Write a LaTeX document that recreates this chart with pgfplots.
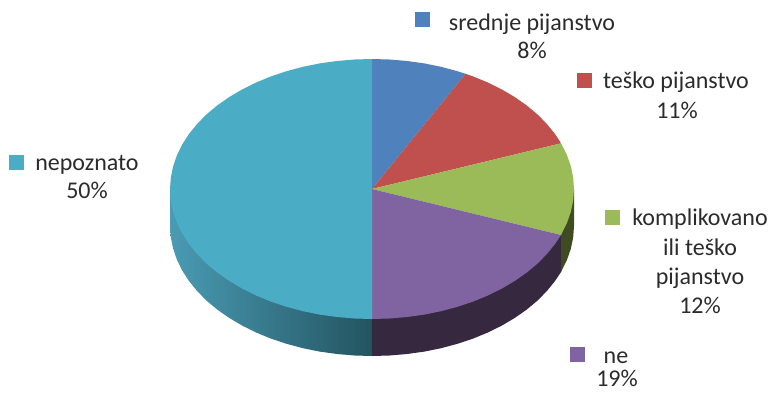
\documentclass[border=0pt]{standalone}
\usepackage{pgfplots}
\pgfplotsset{compat=1.18}
\usepackage{fontspec}
\setmainfont{Carlito}
\definecolor{cblue}{HTML}{4F81BD}
\definecolor{cred}{HTML}{C0504D}
\definecolor{cgreen}{HTML}{9BBB59}
\definecolor{cpurple}{HTML}{8064A2}
\definecolor{cteal}{HTML}{4BACC6}
\definecolor{sgreen}{HTML}{3F4C21}
\definecolor{spurple}{HTML}{35283F}
\definecolor{stealL}{HTML}{4A9BB4}
\definecolor{stealR}{HTML}{235460}
\definecolor{txt}{HTML}{2B2B2B}
\tikzset{lab/.style={font=\fontsize{24}{28}\selectfont, text=txt, anchor=base, inner sep=0pt}}
\begin{document}
\begin{tikzpicture}
\begin{axis}[
  scale only axis, width=771pt, height=392pt,
  xmin=0, xmax=771, ymin=0, ymax=392, y dir=reverse,
  xtick=\empty, ytick=\empty, axis line style={draw=none}, clip=false,
]
% side walls
\addplot[draw=none, left color=stealL, right color=stealR] coordinates {
 (170,189)(170,226)(170.8,237.3)(173.1,248.6)(176.9,259.6)(182.2,270.5)(188.9,280.9)(197.1,291)(206.5,300.6)(217.3,309.6)(229.2,317.9)(242.2,325.6)(256.1,332.5)(271,338.6)(286.6,343.8)(302.9,348.2)(319.7,351.6)(336.9,354)(354.4,355.5)(372,356)(372,319)} -- cycle;
\addplot[draw=none, fill=spurple] coordinates {
 (372,319)(372,356)(389.6,355.5)(407.1,354)(424.3,351.6)(441.1,348.2)(457.4,343.8)(473,338.6)(487.9,332.5)(501.8,325.6)(514.8,317.9)(526.7,309.6)(537.5,300.6)(546.9,291)(555.1,280.9)(561,272)(561,235)} -- cycle;
\addplot[draw=none, fill=sgreen] coordinates {
 (561,235)(561,272)(567.1,259.6)(570.9,248.6)(573.2,237.3)(574,226)(574,189)} -- cycle;
% top face
\addplot[draw=none, fill=cblue] coordinates {
 (372,189)(372,59)(389.6,59.5)(407.1,61)(424.3,63.4)(441.1,66.8)(457.4,71.2)(465.6,73.8)} -- cycle;
\addplot[draw=none, fill=cred] coordinates {
 (372,189)(465.6,73.8)(473,76.4)(487.9,82.5)(501.8,89.4)(514.8,97.1)(526.7,105.4)(537.5,114.4)(546.9,124)(555.1,134.1)(561.1,143.3)} -- cycle;
\addplot[draw=none, fill=cgreen] coordinates {
 (372,189)(561.1,143.3)(567.1,155.4)(570.9,166.4)(573.2,177.7)(574,189)(573.2,200.3)(570.9,211.6)(567.1,222.6)(561,235)} -- cycle;
\addplot[draw=none, fill=cpurple] coordinates {
 (372,189)(561,235)(555.1,243.9)(546.9,254)(537.5,263.6)(526.7,272.6)(514.8,280.9)(501.8,288.6)(487.9,295.5)(473,301.6)(457.4,306.8)(441.1,311.2)(424.3,314.6)(407.1,317)(389.6,318.5)(372,319)} -- cycle;
\addplot[draw=none, fill=cteal] coordinates {
 (372,189)(372,319)(354.4,318.5)(336.9,317)(319.7,314.6)(302.9,311.2)(286.6,306.8)(271,301.6)(256.1,295.5)(242.2,288.6)(229.2,280.9)(217.3,272.6)(206.5,263.6)(197.1,254)(188.9,243.9)(182.2,233.5)(176.9,222.6)(173.1,211.6)(170.8,200.3)(170,189)(170.8,177.7)(173.1,166.4)(176.9,155.4)(182.2,144.5)(188.9,134.1)(197.1,124)(206.5,114.4)(217.3,105.4)(229.2,97.1)(242.2,89.4)(256.1,82.5)(271,76.4)(286.6,71.2)(302.9,66.8)(319.7,63.4)(336.9,61)(354.4,59.5)(372,59)} -- cycle;
% legend keys
\addplot[only marks, mark=square*, mark size=6.7pt, mark options={draw=cblue, fill=cblue, line width=0.3pt}] coordinates {(422,19)};
\addplot[only marks, mark=square*, mark size=6.7pt, mark options={draw=cred, fill=cred, line width=0.3pt}] coordinates {(584,80)};
\addplot[only marks, mark=square*, mark size=6.7pt, mark options={draw=cgreen, fill=cgreen, line width=0.3pt}] coordinates {(612,217)};
\addplot[only marks, mark=square*, mark size=6.7pt, mark options={draw=cpurple, fill=cpurple, line width=0.3pt}] coordinates {(577,354)};
\addplot[only marks, mark=square*, mark size=6.7pt, mark options={draw=cteal, fill=cteal, line width=0.3pt}] coordinates {(16,162)};
% labels
\node[lab] at (axis cs:532,30) {srednje pijanstvo};
\node[lab] at (axis cs:532,58) {8\%};
\node[lab] at (axis cs:676,88) {teško pijanstvo};
\node[lab] at (axis cs:677,118) {11\%};
\node[lab] at (axis cs:700,225) {komplikovano};
\node[lab] at (axis cs:700,255) {ili teško};
\node[lab] at (axis cs:700,284) {pijanstvo};
\node[lab] at (axis cs:700,313) {12\%};
\node[lab] at (axis cs:616,363) {ne};
\node[lab] at (axis cs:617,386) {19\%};
\node[lab] at (axis cs:87,170) {nepoznato};
\node[lab] at (axis cs:87,198) {50\%};
\end{axis}
\end{tikzpicture}
\end{document}
